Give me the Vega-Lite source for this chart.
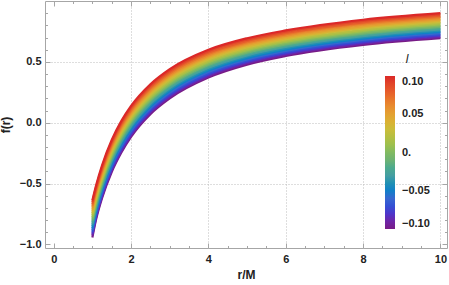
{
"$schema": "https://vega.github.io/schema/vega-lite/v6.json",
"width": 402, "height": 247,
"autosize": {"type": "none"},
"padding": {"left": 45, "top": 1, "right": 2, "bottom": 37},
"config": {"view": {"stroke": "#a6a6a6", "strokeWidth": 1}, "font": "Liberation Sans",
  "axis": {"domain": false, "tickColor": "#a6a6a6", "labelFontSize": 11, "labelFontWeight": "bold", "labelColor": "#222222"}},
"data": {"values": [
{"r":1,"l":-0.1,"f":-0.943},{"r":1.1,"l":-0.1,"f":-0.790},{"r":1.25,"l":-0.1,"f":-0.620},{"r":1.5,"l":-0.1,"f":-0.405},{"r":1.75,"l":-0.1,"f":-0.245},{"r":2,"l":-0.1,"f":-0.117},{"r":2.5,"l":-0.1,"f":0.070},{"r":3,"l":-0.1,"f":0.200},{"r":4,"l":-0.1,"f":0.371},{"r":5,"l":-0.1,"f":0.477},{"r":6,"l":-0.1,"f":0.548},{"r":8,"l":-0.1,"f":0.639},{"r":10,"l":-0.1,"f":0.694},
{"r":1,"l":-0.09,"f":-0.928},{"r":1.1,"l":-0.09,"f":-0.776},{"r":1.25,"l":-0.09,"f":-0.607},{"r":1.5,"l":-0.09,"f":-0.392},{"r":1.75,"l":-0.09,"f":-0.232},{"r":2,"l":-0.09,"f":-0.104},{"r":2.5,"l":-0.09,"f":0.082},{"r":3,"l":-0.09,"f":0.212},{"r":4,"l":-0.09,"f":0.382},{"r":5,"l":-0.09,"f":0.488},{"r":6,"l":-0.09,"f":0.559},{"r":8,"l":-0.09,"f":0.649},{"r":10,"l":-0.09,"f":0.704},
{"r":1,"l":-0.08,"f":-0.912},{"r":1.1,"l":-0.08,"f":-0.762},{"r":1.25,"l":-0.08,"f":-0.593},{"r":1.5,"l":-0.08,"f":-0.379},{"r":1.75,"l":-0.08,"f":-0.219},{"r":2,"l":-0.08,"f":-0.092},{"r":2.5,"l":-0.08,"f":0.095},{"r":3,"l":-0.08,"f":0.224},{"r":4,"l":-0.08,"f":0.394},{"r":5,"l":-0.08,"f":0.499},{"r":6,"l":-0.08,"f":0.569},{"r":8,"l":-0.08,"f":0.660},{"r":10,"l":-0.08,"f":0.715},
{"r":1,"l":-0.07,"f":-0.897},{"r":1.1,"l":-0.07,"f":-0.748},{"r":1.25,"l":-0.07,"f":-0.580},{"r":1.5,"l":-0.07,"f":-0.366},{"r":1.75,"l":-0.07,"f":-0.206},{"r":2,"l":-0.07,"f":-0.079},{"r":2.5,"l":-0.07,"f":0.107},{"r":3,"l":-0.07,"f":0.236},{"r":4,"l":-0.07,"f":0.405},{"r":5,"l":-0.07,"f":0.510},{"r":6,"l":-0.07,"f":0.580},{"r":8,"l":-0.07,"f":0.670},{"r":10,"l":-0.07,"f":0.725},
{"r":1,"l":-0.06,"f":-0.882},{"r":1.1,"l":-0.06,"f":-0.734},{"r":1.25,"l":-0.06,"f":-0.566},{"r":1.5,"l":-0.06,"f":-0.352},{"r":1.75,"l":-0.06,"f":-0.193},{"r":2,"l":-0.06,"f":-0.066},{"r":2.5,"l":-0.06,"f":0.119},{"r":3,"l":-0.06,"f":0.248},{"r":4,"l":-0.06,"f":0.417},{"r":5,"l":-0.06,"f":0.520},{"r":6,"l":-0.06,"f":0.590},{"r":8,"l":-0.06,"f":0.680},{"r":10,"l":-0.06,"f":0.735},
{"r":1,"l":-0.05,"f":-0.867},{"r":1.1,"l":-0.05,"f":-0.720},{"r":1.25,"l":-0.05,"f":-0.553},{"r":1.5,"l":-0.05,"f":-0.339},{"r":1.75,"l":-0.05,"f":-0.180},{"r":2,"l":-0.05,"f":-0.053},{"r":2.5,"l":-0.05,"f":0.132},{"r":3,"l":-0.05,"f":0.260},{"r":4,"l":-0.05,"f":0.428},{"r":5,"l":-0.05,"f":0.531},{"r":6,"l":-0.05,"f":0.601},{"r":8,"l":-0.05,"f":0.691},{"r":10,"l":-0.05,"f":0.746},
{"r":1,"l":-0.04,"f":-0.851},{"r":1.1,"l":-0.04,"f":-0.706},{"r":1.25,"l":-0.04,"f":-0.539},{"r":1.5,"l":-0.04,"f":-0.326},{"r":1.75,"l":-0.04,"f":-0.167},{"r":2,"l":-0.04,"f":-0.041},{"r":2.5,"l":-0.04,"f":0.144},{"r":3,"l":-0.04,"f":0.272},{"r":4,"l":-0.04,"f":0.439},{"r":5,"l":-0.04,"f":0.542},{"r":6,"l":-0.04,"f":0.611},{"r":8,"l":-0.04,"f":0.701},{"r":10,"l":-0.04,"f":0.756},
{"r":1,"l":-0.03,"f":-0.836},{"r":1.1,"l":-0.03,"f":-0.692},{"r":1.25,"l":-0.03,"f":-0.526},{"r":1.5,"l":-0.03,"f":-0.313},{"r":1.75,"l":-0.03,"f":-0.154},{"r":2,"l":-0.03,"f":-0.028},{"r":2.5,"l":-0.03,"f":0.156},{"r":3,"l":-0.03,"f":0.284},{"r":4,"l":-0.03,"f":0.451},{"r":5,"l":-0.03,"f":0.553},{"r":6,"l":-0.03,"f":0.622},{"r":8,"l":-0.03,"f":0.711},{"r":10,"l":-0.03,"f":0.766},
{"r":1,"l":-0.02,"f":-0.821},{"r":1.1,"l":-0.02,"f":-0.678},{"r":1.25,"l":-0.02,"f":-0.512},{"r":1.5,"l":-0.02,"f":-0.300},{"r":1.75,"l":-0.02,"f":-0.141},{"r":2,"l":-0.02,"f":-0.015},{"r":2.5,"l":-0.02,"f":0.168},{"r":3,"l":-0.02,"f":0.296},{"r":4,"l":-0.02,"f":0.462},{"r":5,"l":-0.02,"f":0.564},{"r":6,"l":-0.02,"f":0.632},{"r":8,"l":-0.02,"f":0.722},{"r":10,"l":-0.02,"f":0.776},
{"r":1,"l":-0.01,"f":-0.805},{"r":1.1,"l":-0.01,"f":-0.664},{"r":1.25,"l":-0.01,"f":-0.499},{"r":1.5,"l":-0.01,"f":-0.287},{"r":1.75,"l":-0.01,"f":-0.128},{"r":2,"l":-0.01,"f":-0.002},{"r":2.5,"l":-0.01,"f":0.181},{"r":3,"l":-0.01,"f":0.308},{"r":4,"l":-0.01,"f":0.474},{"r":5,"l":-0.01,"f":0.575},{"r":6,"l":-0.01,"f":0.643},{"r":8,"l":-0.01,"f":0.732},{"r":10,"l":-0.01,"f":0.787},
{"r":1,"l":0,"f":-0.790},{"r":1.1,"l":0,"f":-0.650},{"r":1.25,"l":0,"f":-0.485},{"r":1.5,"l":0,"f":-0.274},{"r":1.75,"l":0,"f":-0.115},{"r":2,"l":0,"f":0.011},{"r":2.5,"l":0,"f":0.193},{"r":3,"l":0,"f":0.320},{"r":4,"l":0,"f":0.485},{"r":5,"l":0,"f":0.586},{"r":6,"l":0,"f":0.653},{"r":8,"l":0,"f":0.742},{"r":10,"l":0,"f":0.797},
{"r":1,"l":0.01,"f":-0.775},{"r":1.1,"l":0.01,"f":-0.636},{"r":1.25,"l":0.01,"f":-0.472},{"r":1.5,"l":0.01,"f":-0.260},{"r":1.75,"l":0.01,"f":-0.102},{"r":2,"l":0.01,"f":0.023},{"r":2.5,"l":0.01,"f":0.205},{"r":3,"l":0.01,"f":0.332},{"r":4,"l":0.01,"f":0.496},{"r":5,"l":0.01,"f":0.596},{"r":6,"l":0.01,"f":0.664},{"r":8,"l":0.01,"f":0.753},{"r":10,"l":0.01,"f":0.807},
{"r":1,"l":0.02,"f":-0.759},{"r":1.1,"l":0.02,"f":-0.622},{"r":1.25,"l":0.02,"f":-0.458},{"r":1.5,"l":0.02,"f":-0.247},{"r":1.75,"l":0.02,"f":-0.089},{"r":2,"l":0.02,"f":0.036},{"r":2.5,"l":0.02,"f":0.218},{"r":3,"l":0.02,"f":0.344},{"r":4,"l":0.02,"f":0.508},{"r":5,"l":0.02,"f":0.607},{"r":6,"l":0.02,"f":0.674},{"r":8,"l":0.02,"f":0.763},{"r":10,"l":0.02,"f":0.818},
{"r":1,"l":0.03,"f":-0.744},{"r":1.1,"l":0.03,"f":-0.608},{"r":1.25,"l":0.03,"f":-0.445},{"r":1.5,"l":0.03,"f":-0.234},{"r":1.75,"l":0.03,"f":-0.076},{"r":2,"l":0.03,"f":0.049},{"r":2.5,"l":0.03,"f":0.230},{"r":3,"l":0.03,"f":0.356},{"r":4,"l":0.03,"f":0.519},{"r":5,"l":0.03,"f":0.618},{"r":6,"l":0.03,"f":0.685},{"r":8,"l":0.03,"f":0.774},{"r":10,"l":0.03,"f":0.828},
{"r":1,"l":0.04,"f":-0.729},{"r":1.1,"l":0.04,"f":-0.594},{"r":1.25,"l":0.04,"f":-0.431},{"r":1.5,"l":0.04,"f":-0.221},{"r":1.75,"l":0.04,"f":-0.063},{"r":2,"l":0.04,"f":0.062},{"r":2.5,"l":0.04,"f":0.242},{"r":3,"l":0.04,"f":0.368},{"r":4,"l":0.04,"f":0.531},{"r":5,"l":0.04,"f":0.629},{"r":6,"l":0.04,"f":0.695},{"r":8,"l":0.04,"f":0.784},{"r":10,"l":0.04,"f":0.838},
{"r":1,"l":0.05,"f":-0.714},{"r":1.1,"l":0.05,"f":-0.580},{"r":1.25,"l":0.05,"f":-0.418},{"r":1.5,"l":0.05,"f":-0.208},{"r":1.75,"l":0.05,"f":-0.050},{"r":2,"l":0.05,"f":0.074},{"r":2.5,"l":0.05,"f":0.255},{"r":3,"l":0.05,"f":0.380},{"r":4,"l":0.05,"f":0.542},{"r":5,"l":0.05,"f":0.640},{"r":6,"l":0.05,"f":0.706},{"r":8,"l":0.05,"f":0.794},{"r":10,"l":0.05,"f":0.849},
{"r":1,"l":0.06,"f":-0.698},{"r":1.1,"l":0.06,"f":-0.566},{"r":1.25,"l":0.06,"f":-0.404},{"r":1.5,"l":0.06,"f":-0.195},{"r":1.75,"l":0.06,"f":-0.037},{"r":2,"l":0.06,"f":0.087},{"r":2.5,"l":0.06,"f":0.267},{"r":3,"l":0.06,"f":0.392},{"r":4,"l":0.06,"f":0.553},{"r":5,"l":0.06,"f":0.651},{"r":6,"l":0.06,"f":0.716},{"r":8,"l":0.06,"f":0.805},{"r":10,"l":0.06,"f":0.859},
{"r":1,"l":0.07,"f":-0.683},{"r":1.1,"l":0.07,"f":-0.552},{"r":1.25,"l":0.07,"f":-0.391},{"r":1.5,"l":0.07,"f":-0.181},{"r":1.75,"l":0.07,"f":-0.024},{"r":2,"l":0.07,"f":0.100},{"r":2.5,"l":0.07,"f":0.279},{"r":3,"l":0.07,"f":0.404},{"r":4,"l":0.07,"f":0.565},{"r":5,"l":0.07,"f":0.661},{"r":6,"l":0.07,"f":0.727},{"r":8,"l":0.07,"f":0.815},{"r":10,"l":0.07,"f":0.869},
{"r":1,"l":0.08,"f":-0.668},{"r":1.1,"l":0.08,"f":-0.538},{"r":1.25,"l":0.08,"f":-0.377},{"r":1.5,"l":0.08,"f":-0.168},{"r":1.75,"l":0.08,"f":-0.011},{"r":2,"l":0.08,"f":0.113},{"r":2.5,"l":0.08,"f":0.291},{"r":3,"l":0.08,"f":0.416},{"r":4,"l":0.08,"f":0.576},{"r":5,"l":0.08,"f":0.672},{"r":6,"l":0.08,"f":0.737},{"r":8,"l":0.08,"f":0.825},{"r":10,"l":0.08,"f":0.879},
{"r":1,"l":0.09,"f":-0.652},{"r":1.1,"l":0.09,"f":-0.524},{"r":1.25,"l":0.09,"f":-0.364},{"r":1.5,"l":0.09,"f":-0.155},{"r":1.75,"l":0.09,"f":0.002},{"r":2,"l":0.09,"f":0.125},{"r":2.5,"l":0.09,"f":0.304},{"r":3,"l":0.09,"f":0.428},{"r":4,"l":0.09,"f":0.588},{"r":5,"l":0.09,"f":0.683},{"r":6,"l":0.09,"f":0.748},{"r":8,"l":0.09,"f":0.836},{"r":10,"l":0.09,"f":0.890},
{"r":1,"l":0.1,"f":-0.637},{"r":1.1,"l":0.1,"f":-0.510},{"r":1.25,"l":0.1,"f":-0.350},{"r":1.5,"l":0.1,"f":-0.142},{"r":1.75,"l":0.1,"f":0.015},{"r":2,"l":0.1,"f":0.138},{"r":2.5,"l":0.1,"f":0.316},{"r":3,"l":0.1,"f":0.440},{"r":4,"l":0.1,"f":0.599},{"r":5,"l":0.1,"f":0.694},{"r":6,"l":0.1,"f":0.758},{"r":8,"l":0.1,"f":0.846},{"r":10,"l":0.1,"f":0.900}
]},
"resolve": {"axis": {"x": "independent", "y": "independent"}},
"layer": [
{
"mark": {"type": "line", "interpolate": "monotone", "strokeWidth": 2.2, "clip": true},
"encoding": {
  "x": {"field": "r", "type": "quantitative",
    "scale": {"domain": [-0.225, 10.17], "nice": false, "zero": false},
    "axis": {"orient": "bottom", "title": "r/M", "values": [0, 2, 4, 6, 8, 10], "format": "d",
      "grid": true, "gridDash": [1, 2], "gridColor": {"condition": {"test": "datum.value == 0", "value": "transparent"}, "value": "#bdbdbd"},
      "tickSize": -5, "labelPadding": 10,
      "titleFontSize": 12, "titleFontWeight": "bold", "titleColor": "#222222", "titlePadding": 5}},
  "y": {"field": "f", "type": "quantitative",
    "scale": {"domain": [-1.03, 1.0], "nice": false, "zero": false},
    "axis": {"orient": "left", "title": "f(r)", "values": [-1, -0.5, 0, 0.5], "format": ".1f",
      "grid": true, "gridDash": [1, 2], "gridColor": {"condition": {"test": "datum.value == -1", "value": "transparent"}, "value": "#bdbdbd"},
      "tickSize": -5, "labelPadding": 9,
      "titleFontSize": 12, "titleFontWeight": "bold", "titleColor": "#222222", "titlePadding": 7}},
  "color": {"field": "l", "type": "quantitative",
    "scale": {"domain": [-0.1, 0.1], "range": ["#781c86", "#4039d3", "#3d71cd", "#4a99a4", "#6bb175", "#a0c04c", "#d2bc38", "#e89733", "#e7602c", "#db2828"]},
    "legend": {"orient": "none", "legendX": 340, "legendY": 53, "padding": 0,
      "title": "l", "titleFontStyle": "italic", "titleFontSize": 12, "titleFontWeight": "normal", "titleColor": "#222222", "titleAnchor": "middle", "titlePadding": 10,
      "direction": "vertical", "gradientLength": 153, "gradientThickness": 10, "gradientStrokeWidth": 0,
      "values": [-0.1, -0.05, 0, 0.05, 0.1], "labelOverlap": false,
      "labelExpr": "datum.value == 0 ? '0.' : format(datum.value, '.2f')",
      "labelFontSize": 11, "labelFontWeight": "bold", "labelColor": "#222222", "labelOffset": 7}},
  "detail": {"field": "l", "type": "quantitative"}
}
},
{
"mark": {"type": "line", "opacity": 0},
"encoding": {
  "x": {"field": "r", "type": "quantitative",
    "axis": {"orient": "top", "title": null, "values": [0, 2, 4, 6, 8, 10], "labels": false, "grid": false, "tickSize": -5}},
  "y": {"field": "f", "type": "quantitative",
    "axis": {"orient": "right", "title": null, "values": [-1, -0.5, 0, 0.5], "labels": false, "grid": false, "tickSize": -5}},
  "detail": {"field": "l", "type": "quantitative"}
}
},
{
"mark": {"type": "line", "opacity": 0},
"encoding": {
  "x": {"field": "r", "type": "quantitative",
    "axis": {"orient": "bottom", "title": null, "values": [0.5, 1, 1.5, 2.5, 3, 3.5, 4.5, 5, 5.5, 6.5, 7, 7.5, 8.5, 9, 9.5], "labels": false, "grid": false, "tickSize": -2.5}},
  "y": {"field": "f", "type": "quantitative",
    "axis": {"orient": "left", "title": null, "values": [-0.9, -0.8, -0.7, -0.6, -0.4, -0.3, -0.2, -0.1, 0.1, 0.2, 0.3, 0.4, 0.6, 0.7, 0.8, 0.9], "labels": false, "grid": false, "tickSize": -2.5}},
  "detail": {"field": "l", "type": "quantitative"}
}
},
{
"mark": {"type": "line", "opacity": 0},
"encoding": {
  "x": {"field": "r", "type": "quantitative",
    "axis": {"orient": "top", "title": null, "values": [0.5, 1, 1.5, 2.5, 3, 3.5, 4.5, 5, 5.5, 6.5, 7, 7.5, 8.5, 9, 9.5], "labels": false, "grid": false, "tickSize": -2.5}},
  "y": {"field": "f", "type": "quantitative",
    "axis": {"orient": "right", "title": null, "values": [-0.9, -0.8, -0.7, -0.6, -0.4, -0.3, -0.2, -0.1, 0.1, 0.2, 0.3, 0.4, 0.6, 0.7, 0.8, 0.9], "labels": false, "grid": false, "tickSize": -2.5}},
  "detail": {"field": "l", "type": "quantitative"}
}
}
]
}
